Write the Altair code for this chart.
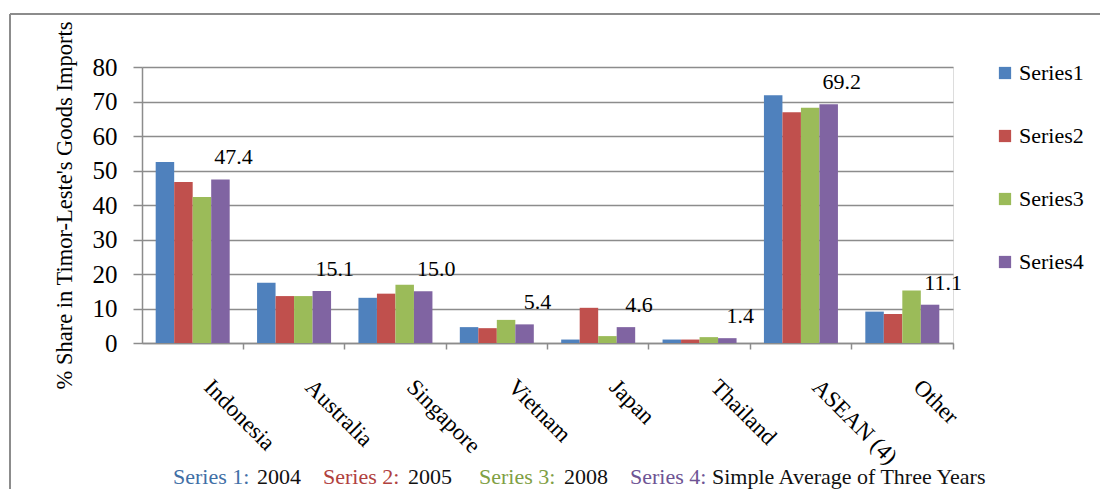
import altair as alt
import pandas as pd

categories = ["Indonesia", "Australia", "Singapore", "Vietnam", "Japan", "Thailand", "ASEAN (4)", "Other"]
series_names = ["Series1", "Series2", "Series3", "Series4"]
series1 = [52.5, 17.5, 13.1, 4.6, 1.0, 1.0, 71.8, 9.1]
series2 = [46.7, 13.6, 14.3, 4.3, 10.2, 1.0, 66.9, 8.4]
series3 = [42.3, 13.6, 16.9, 6.7, 2.0, 1.7, 68.2, 15.2]
series4 = [47.4, 15.1, 15.0, 5.4, 4.6, 1.4, 69.2, 11.1]
y_ticks = [0, 10, 20, 30, 40, 50, 60, 70, 80]
y_title = "% Share in Timor-Leste's Goods Imports"
note_parts = ["Series 1:", "2004", "Series 2:", "2005", "Series 3:", "2008", "Series 4:", "Simple Average of Three Years"]

bar_colors = ["#4F81BD", "#C0504D", "#9BBB59", "#8064A2"]
note_colors = ["#3F6FA6", "#111111", "#B0413E", "#111111", "#7FA044", "#111111", "#6E5494", "#111111"]
note_x = [173, 257, 323, 408, 479, 564, 630, 712]  # page pixels
FONT = "Liberation Serif"
GRAY = "#8c8c8c"

PLOT_LEFT, PLOT_TOP = 142, 67
W, H = 811, 276

rows = []
for s, vals in zip(series_names, [series1, series2, series3, series4]):
    for c, v in zip(categories, vals):
        rows.append({"category": c, "series": s, "value": v})
df = pd.DataFrame(rows)

lab = pd.DataFrame({"category": categories, "series": ["Series4"] * len(categories), "value": series4})
lab["text"] = lab["value"].map(lambda v: f"{v:.1f}")

x_axis = alt.Axis(
    title=None, labelAngle=45, labelAlign="left", labelBaseline="middle",
    labelPadding=34, labelOffset=15, bandPosition=1.185, tickSize=6,
    tickColor=GRAY, domainColor=GRAY, tickWidth=1.5, domainWidth=1.5,
    labelFont=FONT, labelFontSize=23, labelColor="#000000", grid=False,
)
y_axis = alt.Axis(
    values=y_ticks, title=y_title, grid=True, gridColor=GRAY, gridWidth=1.3,
    tickSize=9, tickColor=GRAY, tickWidth=1.5, domainColor=GRAY, domainWidth=1.5,
    labelFont=FONT, labelFontSize=25, labelColor="#000000", labelPadding=16,
    labelOverlap=False,
    titleFont=FONT, titleFontSize=22.5, titleFontWeight="normal", titleColor="#000000",
    titlePadding=16,
)
x_scale = alt.Scale(paddingInner=0.27, paddingOuter=0.135)
y_scale = alt.Scale(domain=[0, 80], nice=False)
xo_scale = alt.Scale(domain=series_names, paddingInner=0, paddingOuter=0)

bars = alt.Chart(df).mark_bar().encode(
    x=alt.X("category:N", sort=categories, scale=x_scale, axis=x_axis),
    xOffset=alt.XOffset("series:N", sort=series_names, scale=xo_scale),
    y=alt.Y("value:Q", scale=y_scale, axis=y_axis),
    color=alt.Color(
        "series:N", scale=alt.Scale(domain=series_names, range=bar_colors),
        legend=alt.Legend(
            title=None, orient="none", legendX=852, legendY=-5, symbolType="square",
            symbolSize=150, symbolStrokeWidth=0, labelFont=FONT, labelFontSize=22,
            labelColor="#000000", rowPadding=41, labelOffset=3,
        ),
    ),
)

labels = alt.Chart(lab).mark_text(
    font=FONT, fontSize=22, color="#000000", align="center", baseline="alphabetic", dx=13, dy=-15
).encode(
    x=alt.X("category:N", sort=categories, scale=x_scale, axis=x_axis),
    xOffset=alt.XOffset("series:N", sort=series_names, scale=xo_scale),
    y=alt.Y("value:Q", scale=y_scale, axis=y_axis),
    text="text:N",
)

one = pd.DataFrame({"k": [0]})
border_left = alt.Chart(one).mark_rule(color=GRAY, strokeWidth=2).encode(
    x=alt.value(10 - PLOT_LEFT), y=alt.value(14 - PLOT_TOP), y2=alt.value(600)
)
border_top = alt.Chart(one).mark_rule(color=GRAY, strokeWidth=2).encode(
    x=alt.value(10 - PLOT_LEFT), x2=alt.value(1300), y=alt.value(14 - PLOT_TOP)
)

notes = []
for t, c, px in zip(note_parts, note_colors, note_x):
    notes.append(
        alt.Chart(pd.DataFrame({"t": [t]})).mark_text(
            font=FONT, fontSize=22, color=c, align="left", baseline="alphabetic"
        ).encode(x=alt.value(px - PLOT_LEFT), y=alt.value(484 - PLOT_TOP), text="t:N")
    )

chart = alt.layer(bars, labels, border_left, border_top, *notes).properties(
    width=W, height=H,
    autosize=alt.AutoSizeParams(type="none"),
    padding={"left": PLOT_LEFT - 8, "top": PLOT_TOP - 8, "right": 1092 - (PLOT_LEFT - 8) - W, "bottom": 481 - (PLOT_TOP - 8) - H},
).configure_view(strokeWidth=0).configure(background="#ffffff")

chart.save("out.html", embed_options={"renderer": "svg", "actions": False})
